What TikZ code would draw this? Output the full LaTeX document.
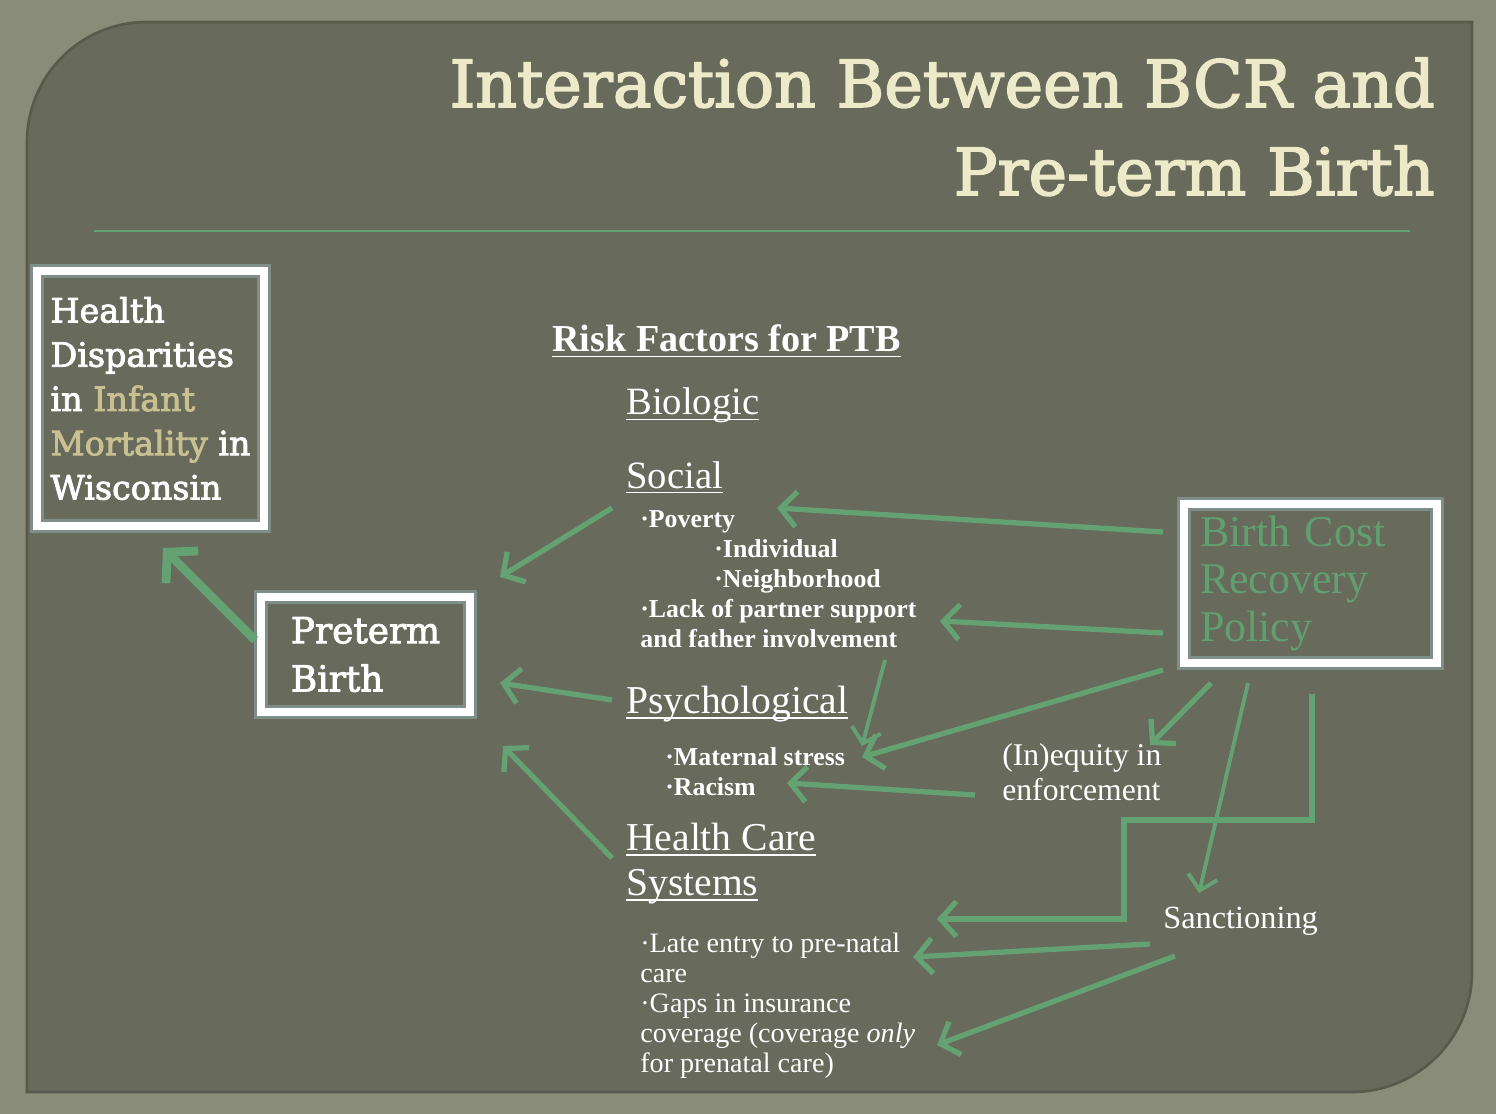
\documentclass[tikz,border=0pt]{standalone}
\usepackage{fontspec}
\setmainfont{Liberation Serif}
\newfontfamily\slab[FakeBold=2.5]{DejaVu Serif}
\usetikzlibrary{arrows.meta}
\definecolor{outerbg}{RGB}{138,140,122}
\definecolor{panelc}{RGB}{104,106,92}
\definecolor{paneledge}{RGB}{88,90,78}
\definecolor{agreen}{RGB}{100,162,116}
\definecolor{titlecream}{RGB}{236,234,200}
\definecolor{tanc}{RGB}{200,192,145}
\definecolor{glowc}{RGB}{150,178,180}
\definecolor{bcrgreen}{RGB}{96,160,112}
\newdimen\px \px=0.02cm
\newcommand\myul[1]{\setbox0\hbox{#1}\rlap{\rule[-0.14em]{\wd0}{0.045em}}\box0}
\tikzset{
  wbox/.style={draw=white, line width=4.5pt, inner sep=0pt,
    preaction={draw=glowc, line width=8pt, opacity=0.5}},
  txt/.style={text=white, inner sep=0pt, anchor=base west, align=left},
  garrow/.style={draw=agreen, line width=3pt, -{Straight Barb[length=9pt,width=20pt]}},
  bigarrow/.style={draw=agreen, line width=5pt, -{Straight Barb[length=12pt,width=26pt]}},
  thinarrow/.style={draw=agreen, line width=2.2pt, -{Straight Barb[length=8pt,width=17pt]}},
}
\begin{document}
\begin{tikzpicture}[x=0.02cm,y=-0.02cm]
\fill[outerbg] (0,0) rectangle (1496,1114);
\useasboundingbox (0,0) rectangle (1496,1114);
% panel
\fill[panelc] (27,1092) -- (27,142) .. controls (27,76) and (80,22) .. (147,22) -- (1472,22) -- (1472,972) .. controls (1472,1038) and (1418,1092) .. (1352,1092) -- cycle;
\draw[paneledge, line width=1.5pt] (27,1092) -- (27,142) .. controls (27,76) and (80,22) .. (147,22) -- (1472,22) -- (1472,972) .. controls (1472,1038) and (1418,1092) .. (1352,1092) -- cycle;
% title
\node[anchor=base east, inner sep=0pt, text=titlecream, font=\slab\fontsize{37}{44}\selectfont] (t1) at (1435,107) {Interaction Between BCR and};
\node[anchor=base east, inner sep=0pt, text=titlecream, font=\slab\fontsize{37}{44}\selectfont] (t2) at (1435,195) {Pre-term Birth};
\draw[agreen, line width=1.5pt] (94,231) -- (1410,231);
% boxes
\node[wbox, minimum width=227\px, minimum height=255\px, text=white, align=left,
  font=\slab\fontsize{19}{25.2}\selectfont] (hd) at (150.5,398.5)
  {Health\\Disparities\\in \textcolor{tanc}{Infant}\\\textcolor{tanc}{Mortality} in\\Wisconsin};
\node[wbox, minimum width=209\px, minimum height=115\px, text=white, align=left,
  font=\slab\fontsize{20.4}{27.5}\selectfont] (pb) at (365.5,654.5)
  {Preterm\\Birth};
\node[wbox, minimum width=253\px, minimum height=159\px, text=bcrgreen, align=left,
  text width=221\px, inner xsep=16\px, font=\fontsize{25}{27.2}\selectfont] (bcr) at (1310.5,583.5)
  {Birth Cost\\Recovery\\Policy};
% risk factor texts (base anchor = baseline of last line)
\node[txt, font=\bfseries\fontsize{21.7}{26}\selectfont] (rf) at (552,352) {\myul{Risk Factors for PTB}};
\node[txt, font=\fontsize{22}{26}\selectfont] (bio) at (626,415) {\myul{Biologic}};
\node[txt, font=\fontsize{22}{26}\selectfont] (soc) at (626,488) {\myul{Social}};
\node[txt, font=\bfseries\fontsize{14.7}{17}\selectfont] (pov) at (640,527) {·Poverty};
\node[txt, font=\bfseries\fontsize{14.7}{17}\selectfont] (ind) at (714,587) {·Individual\\·Neighborhood};
\node[txt, font=\bfseries\fontsize{14.7}{17}\selectfont] (lack) at (640,647) {·Lack of partner support\\and father involvement};
\node[txt, font=\fontsize{22.5}{26}\selectfont] (psy) at (626,713) {\myul{Psychological}};
\node[txt, font=\bfseries\fontsize{14.7}{17}\selectfont] (ms) at (665,795) {·Maternal stress\\·Racism};
\node[txt, font=\fontsize{22.5}{25.5}\selectfont] (hcs) at (626,895) {\myul{Health Care}\\\myul{Systems}};
\node[txt, font=\fontsize{16}{17}\selectfont] (late) at (640,1072) {·Late entry to pre-natal\\care\\·Gaps in insurance\\coverage (coverage \textit{only}\\for prenatal care)};
\node[txt, font=\fontsize{18}{19.8}\selectfont] (ineq) at (1002,800) {(In)equity in\\enforcement};
\node[txt, font=\fontsize{18.4}{20}\selectfont] (sanc) at (1163,928) {Sanctioning};
% arrow end points
\coordinate (pbA) at (255,640);   \coordinate (hdA) at (163,548);
\coordinate (socA) at (612,508);  \coordinate (pbB) at (500,577);
\coordinate (psyA) at (612,700);  \coordinate (pbC) at (500,683);
\coordinate (hcsA) at (612,858);  \coordinate (pbD) at (503,746);
\coordinate (bcrA) at (1163,532); \coordinate (povA) at (777,508);
\coordinate (bcrB) at (1163,633); \coordinate (lackA) at (940,621);
\coordinate (bcrC) at (1163,670); \coordinate (msA) at (862,757);
\coordinate (bcrD) at (1211,683); \coordinate (ineqA) at (1150,745);
\coordinate (bcrE) at (1248,683); \coordinate (sancA) at (1199,893);
\coordinate (bcrF) at (1312,694); \coordinate (hcsB) at (937,919);
\coordinate (lackB) at (885,660); \coordinate (msB) at (862,746);
\coordinate (ineqB) at (975,795); \coordinate (msC) at (787,783);
\coordinate (sancB) at (1150,944); \coordinate (lateA) at (913,957);
\coordinate (sancC) at (1175,956); \coordinate (lateB) at (937,1045);
% arrows
\draw[bigarrow] (pbA) -- (hdA);
\draw[garrow] (socA) -- (pbB);
\draw[garrow] (psyA) -- (pbC);
\draw[garrow] (hcsA) -- (pbD);
\draw[garrow] (bcrA) -- (povA);
\draw[garrow] (bcrB) -- (lackA);
\draw[garrow] (bcrC) -- (msA);
\draw[garrow] (bcrD) -- (ineqA);
\draw[thinarrow] (bcrE) -- (sancA);
\draw[garrow] (bcrF) -- (1312,820) -- (1124,820) -- (1124,919) -- (hcsB);
\draw[thinarrow] (lackB) -- (msB);
\draw[garrow] (ineqB) -- (msC);
\draw[garrow] (sancB) -- (lateA);
\draw[garrow] (sancC) -- (lateB);
\end{tikzpicture}
\end{document}
